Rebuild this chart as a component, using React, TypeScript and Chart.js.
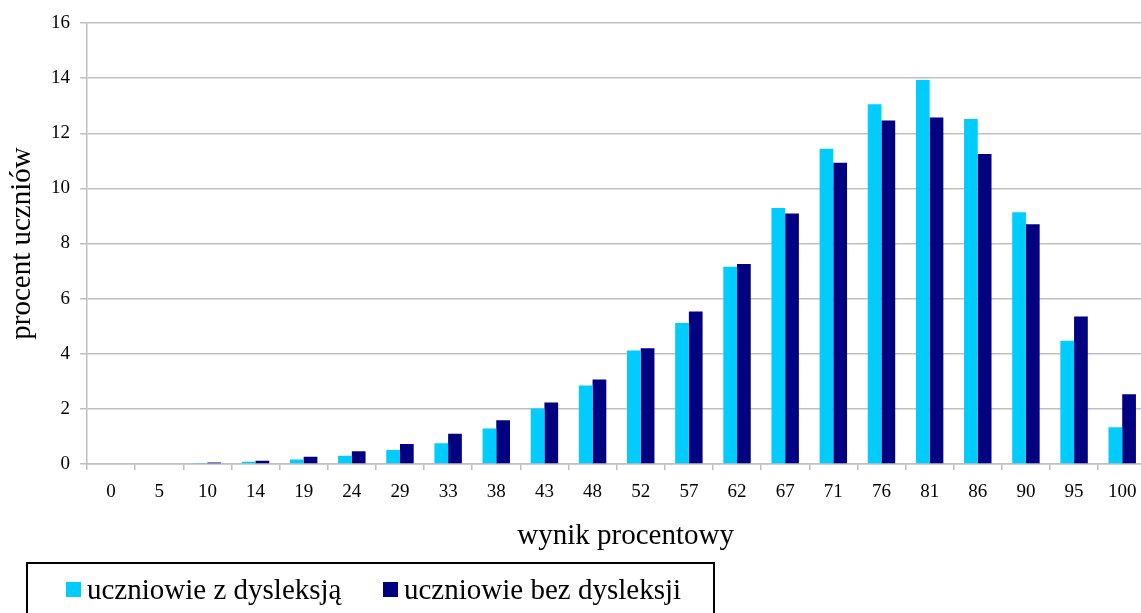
import { useEffect, useRef } from "react";
import { Chart, registerables } from "chart.js";

Chart.register(...registerables);

const categories = ["0", "5", "10", "14", "19", "24", "29", "33", "38", "43", "48", "52", "57", "62", "67", "71", "76", "81", "86", "90", "95", "100"];
const withDyslexia = [0, 0, 0.02, 0.08, 0.16, 0.3, 0.51, 0.75, 1.29, 2.01, 2.85, 4.12, 5.12, 7.16, 9.29, 11.44, 13.05, 13.93, 12.52, 9.13, 4.47, 1.33];
const withoutDyslexia = [0, 0, 0.05, 0.12, 0.26, 0.46, 0.73, 1.1, 1.59, 2.23, 3.07, 4.2, 5.53, 7.26, 9.09, 10.93, 12.46, 12.57, 11.25, 8.7, 5.35, 2.53];
const seriesNames = ["uczniowie z dysleksją", "uczniowie bez dysleksji"];
const seriesColors = ["#00CCFF", "#000080"];
const xTitle = "wynik procentowy";
const yTitle = "procent uczniów";
const yMin = 0;
const yMax = 16;
const yStep = 2;

const FONT = "'Liberation Serif', 'Times New Roman', serif";
const GRID = "#BFBFBF";

// draws the x axis title slightly right of the plot centre, as in the source
const xTitlePlugin = {
  id: "xTitleShifted",
  afterDraw(chart: any) {
    const { ctx, chartArea } = chart;
    ctx.save();
    ctx.font = `29px ${FONT}`;
    ctx.fillStyle = "#000";
    ctx.textAlign = "center";
    ctx.textBaseline = "alphabetic";
    ctx.fillText(xTitle, (chartArea.left + chartArea.right) / 2 + 9, chartArea.bottom + 80);
    ctx.restore();
  },
};

export default function App() {
  const ref = useRef<HTMLCanvasElement | null>(null);

  useEffect(() => {
    if (!ref.current) return;
    const chart = new Chart(ref.current, {
      type: "bar",
      data: {
        labels: categories,
        datasets: [
          { label: seriesNames[0], data: withDyslexia, backgroundColor: seriesColors[0], borderWidth: 0, categoryPercentage: 0.57, barPercentage: 1 },
          { label: seriesNames[1], data: withoutDyslexia, backgroundColor: seriesColors[1], borderWidth: 0, categoryPercentage: 0.57, barPercentage: 1 },
        ],
      },
      options: {
        responsive: false,
        animation: false,
        devicePixelRatio: 1,
        layout: { padding: { left: 0, top: 23, right: 3.7, bottom: 49 } },
        plugins: { legend: { display: false }, tooltip: { enabled: false } },
        scales: {
          x: {
            offset: true,
            grid: { display: true, drawOnChartArea: false, drawTicks: true, tickLength: 6, color: GRID, lineWidth: 1.5, offset: true },
            border: { display: true, color: GRID, width: 1.5 },
            ticks: { font: { family: FONT, size: 19 }, color: "#000", padding: 11, maxRotation: 0, autoSkip: false },
            title: { display: false },
            afterFit: (s: any) => { s.height = 100; },
          },
          y: {
            min: yMin,
            max: yMax,
            ticks: { stepSize: yStep, font: { family: FONT, size: 19 }, color: "#000", padding: 10 },
            grid: { color: GRID, lineWidth: 1.5, tickLength: 7 },
            border: { display: true, color: GRID, width: 1.5 },
            title: { display: true, text: yTitle, font: { family: FONT, size: 29 }, color: "#000", padding: { top: 5, bottom: 0 } },
            afterFit: (s: any) => { s.width = 87; },
          },
        },
      },
      plugins: [xTitlePlugin],
    });
    return () => chart.destroy();
  }, []);

  const textStyle: React.CSSProperties = { position: "absolute", top: 574.6, fontFamily: FONT, fontSize: 29, lineHeight: "29px", color: "#000", whiteSpace: "nowrap" };
  const sq = (c: string, left: number): React.CSSProperties => ({ position: "absolute", left, top: 582, width: 15, height: 15, background: c });

  return (
    <div style={{ position: "fixed", left: 0, top: 0, width: 1141, height: 613, overflow: "hidden", background: "#fff" }}>
      <canvas ref={ref} width={1150} height={613} style={{ position: "absolute", left: 0, top: 0, width: 1150, height: 613 }} />
      <div style={{ position: "absolute", left: 26, top: 562, width: 685, height: 80, border: "2px solid #000" }} />
      <div style={sq(seriesColors[0], 66)} />
      <div style={{ ...textStyle, left: 87 }}>{seriesNames[0]}</div>
      <div style={sq(seriesColors[1], 383)} />
      <div style={{ ...textStyle, left: 404 }}>{seriesNames[1]}</div>
    </div>
  );
}
